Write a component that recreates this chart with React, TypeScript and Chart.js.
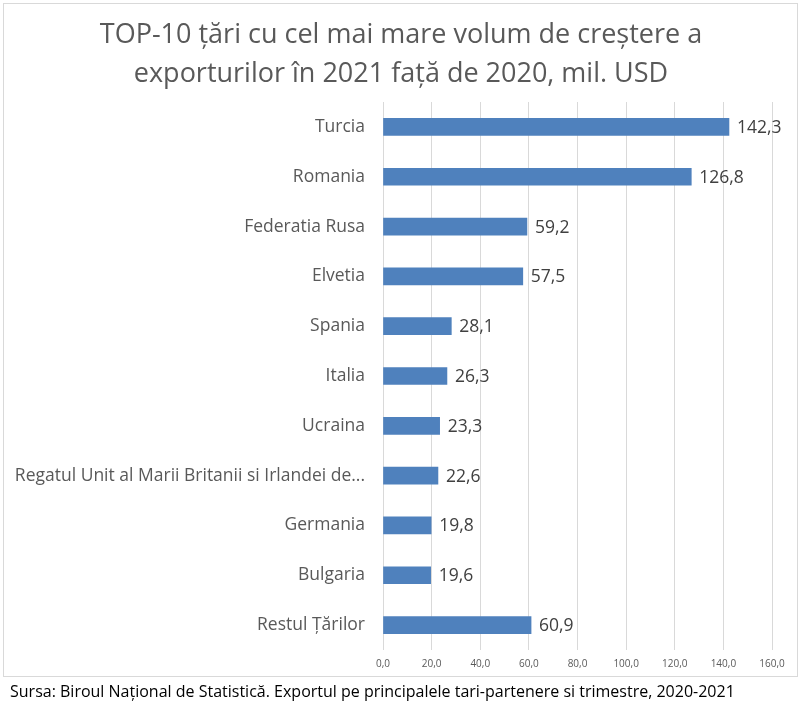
import React, { useEffect, useRef } from "react";
import { Chart, registerables } from "chart.js";

Chart.register(...registerables);

const titleLines = [
  "TOP-10 țări cu cel mai mare volum de creștere a",
  "exporturilor în 2021 față de 2020, mil. USD",
];
const categories = [
  "Turcia",
  "Romania",
  "Federatia Rusa",
  "Elvetia",
  "Spania",
  "Italia",
  "Ucraina",
  "Regatul Unit al Marii Britanii si Irlandei de...",
  "Germania",
  "Bulgaria",
  "Restul Țărilor",
];
const values = [142.3, 126.8, 59.2, 57.5, 28.1, 26.3, 23.3, 22.6, 19.8, 19.6, 60.9];
const xMin = 0;
const xMax = 160;
const xStep = 20;
const sourceText =
  "Sursa: Biroul Național de Statistică. Exportul pe principalele tari-partenere si trimestre, 2020-2021";

const FONT = "'Open Sans', Lato, sans-serif";
const fmt = (v: number, d: number) => v.toFixed(d).replace(".", ",");

export default function App() {
  const ref = useRef<HTMLCanvasElement | null>(null);

  useEffect(() => {
    if (!ref.current) return;
    const titlePlugin = {
      id: "titleDraw",
      afterDraw(chart: any) {
        const ctx = chart.ctx;
        ctx.save();
        ctx.fillStyle = "#595959";
        ctx.font = `27px ${FONT}`;
        ctx.textAlign = "center";
        ctx.textBaseline = "middle";
        ctx.fillText(titleLines[0], 401, 35);
        ctx.fillText(titleLines[1], 401, 74);
        ctx.restore();
      },
    };
    const labelPlugin = {
      id: "valueLabels",
      afterDatasetsDraw(chart: any) {
        const ctx = chart.ctx;
        const meta = chart.getDatasetMeta(0);
        ctx.save();
        ctx.fillStyle = "#404040";
        ctx.font = `17.5px ${FONT}`;
        ctx.textAlign = "left";
        ctx.textBaseline = "middle";
        meta.data.forEach((el: any, i: number) => {
          ctx.fillText(fmt(values[i], 1), el.x + 8, el.y + 1);
        });
        ctx.restore();
      },
    };
    const chart = new Chart(ref.current, {
      type: "bar",
      data: {
        labels: categories,
        datasets: [
          {
            data: values,
            backgroundColor: "#4f81bd",
            borderWidth: 0,
            barThickness: 17,
          },
        ],
      },
      options: {
        indexAxis: "y",
        animation: false,
        responsive: false,
        devicePixelRatio: 1,
        layout: { padding: { top: 102, right: 28, bottom: 0, left: 0 } },
        plugins: {
          legend: { display: false },
          title: { display: false },
          tooltip: { enabled: false },
        },
        scales: {
          x: {
            min: xMin,
            max: xMax,
            ticks: {
              stepSize: xStep,
              padding: 8,
              color: "#595959",
              font: { family: FONT, size: 10 },
              callback: (v: any) => fmt(Number(v), 1),
            },
            grid: { color: "#d9d9d9", drawTicks: false, lineWidth: 1 },
            border: { display: false },
            afterFit: (s: any) => {
              s.height = 62;
            },
          },
          y: {
            ticks: {
              padding: 10,
              color: "#595959",
              font: { family: FONT, size: 17.5 },
              autoSkip: false,
            },
            grid: { display: false },
            border: { display: false },
            afterFit: (s: any) => {
              s.width = 383;
            },
          },
        },
      },
      plugins: [titlePlugin, labelPlugin],
    });
    return () => chart.destroy();
  }, []);

  return (
    <div style={{ position: "fixed", left: 0, top: 0, width: 800, height: 712, background: "#fff" }}>
      <div
        style={{
          position: "absolute",
          left: 3,
          top: 3,
          width: 793,
          height: 672,
          border: "1px solid #d9d9d9",
        }}
      />
      <canvas ref={ref} width={800} height={712} style={{ position: "absolute", left: 0, top: 0 }} />
      <div
        style={{
          position: "absolute",
          left: 10,
          top: 680,
          fontFamily: FONT,
          fontSize: 16,
          color: "#000",
          whiteSpace: "nowrap",
        }}
      >
        {sourceText}
      </div>
    </div>
  );
}
